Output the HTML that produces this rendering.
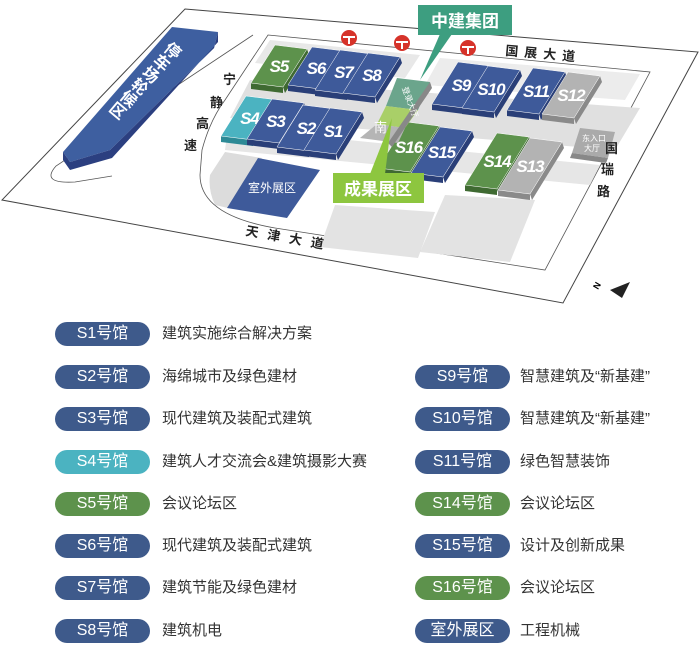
<!DOCTYPE html>
<html><head><meta charset="utf-8">
<style>
html,body{margin:0;padding:0;background:#fff;}
body{width:700px;height:650px;position:relative;overflow:hidden;font-family:"Liberation Sans","Noto Sans CJK SC",sans-serif;}
.b{position:absolute;height:24px;width:95px;border-radius:12px;color:#fff;font-size:16px;line-height:24px;text-align:center;}
.t{position:absolute;font-size:15px;color:#333;line-height:24px;}
.bl{background:#3e5a8b}.tl{background:#4bb3c1}.gr{background:#5d924c}
svg{position:absolute;left:0;top:0}
</style></head><body>
<svg id="m" width="700" height="310" viewBox="0 0 700 310" font-family="Liberation Sans, Noto Sans CJK SC, sans-serif">
<polygon points="185,9 698,52 563,303 2,200" fill="#fff" stroke="#444" stroke-width="1"/>
<path d="M268,35 L650,72 L545,270 L275,228 Q200,215 200,175 L202,150 Q210,120 225,100 Z" fill="#fff" stroke="#555" stroke-width="0.8"/>
<polygon points="250,80 640,108 615,150 230,118" fill="#e0e0e0"/>
<polygon points="228,128 600,165 590,185 225,150" fill="#e6e6e6"/>
<path d="M225,152 L262,158 L228,208 L215,205 Q208,190 210,175 Z" fill="#dcdcdc"/>
<polygon points="335,205 435,212 418,258 320,247" fill="#e3e3e3"/>
<polygon points="445,195 535,200 510,262 420,252" fill="#e3e3e3"/>
<polygon points="270,40 420,55 405,78 255,63" fill="#e8e8e8"/>
<polygon points="440,58 640,74 625,100 425,85" fill="#ececec"/>
<path d="M253,35 L56,166 Q40,184 75,182 L112,176" fill="none" stroke="#555" stroke-width="0.8"/>
<!-- parking ship -->
<polygon points="172,27 218,32 214,48 110,150 70,162 63,152" fill="#3e5fa0"/>
<polygon points="218,32 218,42 112,158 70,170 63,160 63,152 70,162 110,150 214,48" fill="#2b3f80"/>
<g font-size="16" fill="#fff" font-weight="bold">
<text transform="translate(163,50) rotate(40)">停</text>
<text transform="translate(152,62) rotate(40)">车</text>
<text transform="translate(141,74) rotate(40)">场</text>
<text transform="translate(130,86) rotate(40)">轮</text>
<text transform="translate(119,98) rotate(40)">候</text>
<text transform="translate(108,110) rotate(40)">区</text>
</g>
<g id="bld"></g>
<polygon points="397,78 430,82 418,110 386,106" fill="#6ba58c"/>
<polygon points="386,106 418,110 405,128 377,124" fill="#a9cf68"/>
<polygon points="377,124 405,128 398,143 360,138" fill="#b5b5b5"/>
<polygon points="430,82 432,88 392,147 388,143" fill="#888"/>
<text font-size="8" fill="#fff" transform="translate(402,88) rotate(70)">登录大厅</text>
<text x="374" y="132" font-size="13" fill="#fff">南</text>
<polygon points="258,158 320,170 287,218 227,208" fill="#3e5a9a"/>
<text x="248" y="192" font-size="12" fill="#fff">室外展区</text>
<polygon points="580,128 615,132 608,158 572,153" fill="#aaa"/>
<polygon points="572,153 608,158 606,163 570,158" fill="#888"/>
<text x="582" y="141" font-size="8" fill="#fff">东入口</text><text x="584" y="151" font-size="8" fill="#fff">大厅</text>
<polygon points="440,34 452,34 420,80" fill="#3d9e80"/>
<rect x="418" y="5" width="94" height="30" fill="#3d9e80"/>
<text x="465" y="27" font-size="17" font-weight="bold" fill="#fff" text-anchor="middle">中建集团</text>
<polygon points="370,174 385,174 392,118" fill="#8dc63f"/>
<rect x="333" y="173" width="91" height="30" fill="#8dc63f"/>
<text x="378" y="195" font-size="17" font-weight="bold" fill="#fff" text-anchor="middle">成果展区</text>
<g fill="#d6332a"><circle cx="349" cy="38" r="8"/><circle cx="402" cy="43" r="8"/><circle cx="468" cy="48" r="8"/></g>
<g fill="#fff"><rect x="343" y="36" width="12" height="2"/><rect x="348" y="36" width="2" height="8"/><rect x="396" y="41" width="12" height="2"/><rect x="401" y="41" width="2" height="8"/><rect x="462" y="46" width="12" height="2"/><rect x="467" y="46" width="2" height="8"/></g>
<g font-size="13" font-weight="bold" fill="#222">
<text transform="translate(505,55) rotate(5)" letter-spacing="6">国展大道</text>
<text transform="translate(245,235) rotate(10)" letter-spacing="9">天津大道</text>
<text x="223" y="84">宁</text><text x="210" y="107">静</text><text x="196" y="128">高</text><text x="184" y="150">速</text>
<text x="605" y="153">国</text><text x="601" y="174">瑞</text><text x="597" y="196">路</text>
</g>
<text transform="translate(598,290) rotate(-60)" font-size="9" font-weight="bold">N</text>
<polygon points="610,290 630,282 622,298" fill="#222"/>
</svg>
<script>
var B=[["S5",275,45,"#5d924c",38],["S6",312,47,"#3e5a9a",38],["S7",340,50,"#3e5a9a",40],["S8",368,53,"#3e5a9a",40],
["S4",246,96,"#4bb3c1",40],["S3",272,99,"#3e5a9a",40],["S2",303,105,"#3e5a9a",42],["S1",330,108,"#3e5a9a",42],
["S9",458,62,"#3e5a9a",42],["S10",488,66,"#3e5a9a",42],["S11",533,68,"#3e5a9a",42],["S12",568,72,"#b3b3b3",42],
["S16",407,122,"#5d924c",46],["S15",440,127,"#3e5a9a",46],["S14",497,133,"#5d924c",52],["S13",530,138,"#b3b3b3",52]];
var s="";
B.forEach(function(b){var x=b[1],y=b[2],c=b[3],h=b[4],w=32,d=4,l=Math.round(h*0.62);
var dark=c=="#b3b3b3"?"#8a8a8a":(c=="#5d924c"?"#3f6a32":(c=="#4bb3c1"?"#2d8a96":"#2a3f78"));
s+='<polygon points="'+(x-l)+','+(y+h)+' '+(x+w-l)+','+(y+h+d)+' '+(x+w-l)+','+(y+h+d+6)+' '+(x-l)+','+(y+h+6)+'" fill="'+dark+'"/>';
s+='<polygon points="'+(x+w)+','+(y+d)+' '+(x+w+2)+','+(y+d+6)+' '+(x+w-l+2)+','+(y+h+d+6)+' '+(x+w-l)+','+(y+h+d)+'" fill="'+dark+'"/>';
s+='<polygon points="'+x+','+y+' '+(x+w)+','+(y+d)+' '+(x+w-l)+','+(y+h+d)+' '+(x-l)+','+(y+h)+'" fill="'+c+'" stroke="#fff" stroke-width="0.5"/>';
s+='<text x="'+(x+w/2-l/2)+'" y="'+(y+h/2+8)+'" font-size="17" font-weight="bold" font-style="italic" fill="#fff" text-anchor="middle" letter-spacing="-1">'+b[0]+'</text>';});
document.getElementById("bld").innerHTML=s;
</script>
<div class="b bl" style="left:55px;top:322px">S1号馆</div><div class="t" style="left:162px;top:322px">建筑实施综合解决方案</div>
<div class="b bl" style="left:55px;top:365px">S2号馆</div><div class="t" style="left:162px;top:365px">海绵城市及绿色建材</div>
<div class="b bl" style="left:55px;top:407px">S3号馆</div><div class="t" style="left:162px;top:407px">现代建筑及装配式建筑</div>
<div class="b tl" style="left:55px;top:450px">S4号馆</div><div class="t" style="left:162px;top:450px">建筑人才交流会&amp;建筑摄影大赛</div>
<div class="b gr" style="left:55px;top:492px">S5号馆</div><div class="t" style="left:162px;top:492px">会议论坛区</div>
<div class="b bl" style="left:55px;top:534px">S6号馆</div><div class="t" style="left:162px;top:534px">现代建筑及装配式建筑</div>
<div class="b bl" style="left:55px;top:576px">S7号馆</div><div class="t" style="left:162px;top:576px">建筑节能及绿色建材</div>
<div class="b bl" style="left:55px;top:619px">S8号馆</div><div class="t" style="left:162px;top:619px">建筑机电</div>
<div class="b bl" style="left:415px;top:365px">S9号馆</div><div class="t" style="left:520px;top:365px">智慧建筑及“新基建”</div>
<div class="b bl" style="left:415px;top:407px">S10号馆</div><div class="t" style="left:520px;top:407px">智慧建筑及“新基建”</div>
<div class="b bl" style="left:415px;top:450px">S11号馆</div><div class="t" style="left:520px;top:450px">绿色智慧装饰</div>
<div class="b gr" style="left:415px;top:492px">S14号馆</div><div class="t" style="left:520px;top:492px">会议论坛区</div>
<div class="b bl" style="left:415px;top:534px">S15号馆</div><div class="t" style="left:520px;top:534px">设计及创新成果</div>
<div class="b gr" style="left:415px;top:576px">S16号馆</div><div class="t" style="left:520px;top:576px">会议论坛区</div>
<div class="b bl" style="left:415px;top:619px">室外展区</div><div class="t" style="left:520px;top:619px">工程机械</div>
</body></html>
